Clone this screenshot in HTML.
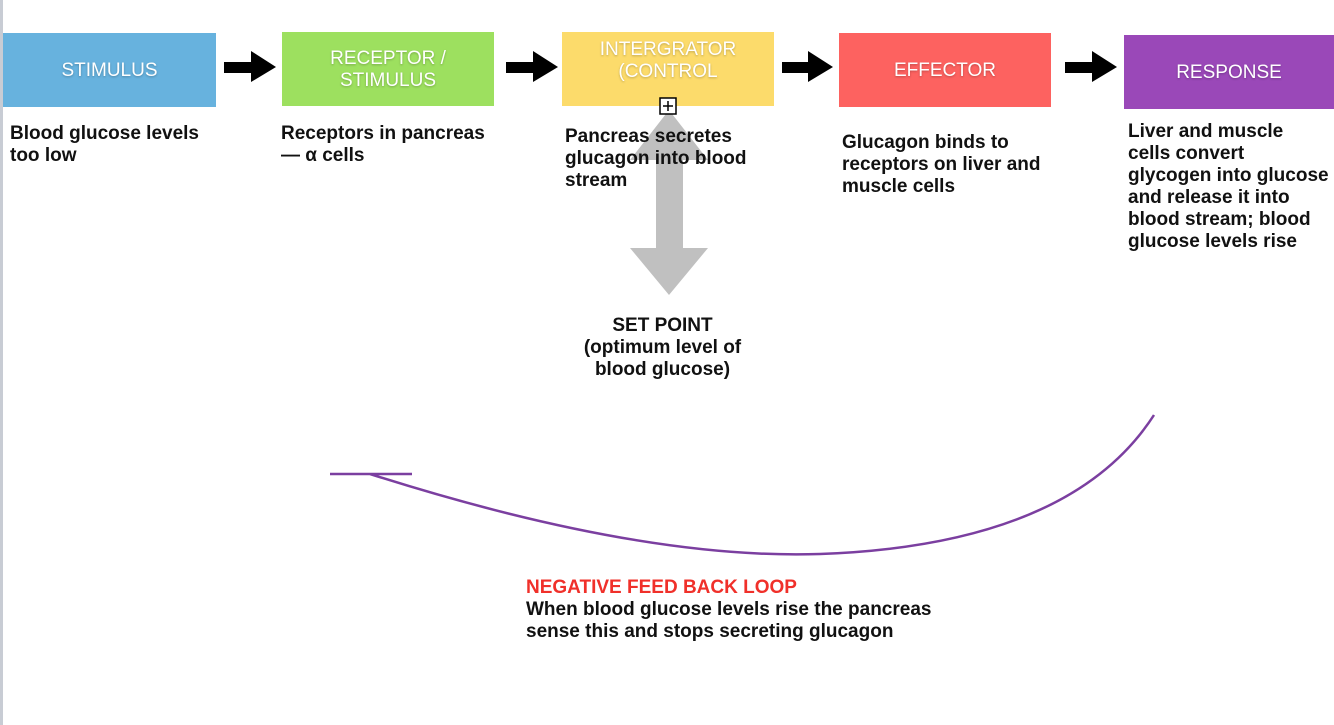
<!DOCTYPE html>
<html><head><style>
body{margin:0;width:1334px;height:725px;background:#fff;position:relative;overflow:hidden;font-family:"Liberation Sans",sans-serif;}
.strip{position:absolute;left:0;top:0;width:3px;height:725px;background:#c8ccd4;}
.box{position:absolute;color:#fff;font-size:19px;text-align:center;display:flex;align-items:center;justify-content:center;line-height:22px;text-shadow:0 1px 2px rgba(0,0,0,0.25);}
.t{position:absolute;font-weight:bold;font-size:19px;line-height:22px;color:#111;white-space:nowrap;}
.arr{position:absolute;}
</style></head><body>
<div class="strip"></div>
<div class="box" style="left:3px;top:33px;width:213px;height:74px;background:#67b2de;padding-top:2px;box-sizing:border-box;">STIMULUS</div>
<div class="box" style="left:282px;top:32px;width:212px;height:74px;background:#9de05f;padding-top:2px;box-sizing:border-box;">RECEPTOR /<br>STIMULUS</div>
<div class="box" style="left:562px;top:32px;width:212px;height:74px;background:#fcdb6b;align-items:flex-start;padding-top:7px;box-sizing:border-box;">INTERGRATOR<br>(CONTROL</div>
<div class="box" style="left:839px;top:33px;width:212px;height:74px;background:#fd6260;padding-top:2px;box-sizing:border-box;">EFFECTOR</div>
<div class="box" style="left:1124px;top:35px;width:210px;height:74px;background:#9a48b8;padding-top:2px;box-sizing:border-box;">RESPONSE</div>

<svg class="arr" style="left:0;top:0" width="1334" height="725">
<g fill="#000">
<polygon points="224,62 251,62 251,51 276,67 251,82 251,73 224,73"/>
<polygon points="506,62 533,62 533,51 558,67 533,82 533,73 506,73"/>
<polygon points="782,62 808,62 808,51 833,67 808,82 808,73 782,73"/>
<polygon points="1065,62 1092,62 1092,51 1117,67 1092,82 1092,73 1065,73"/>
</g>
<polygon fill="#c0c0c0" points="669,110 708,160 683,160 683,248 708,248 669,295 630,248 656,248 656,160 630,160"/>
<rect x="660" y="98" width="16" height="16" fill="#fff" stroke="#000" stroke-width="1.5"/>
<path d="M668 101v10M663 106h10" stroke="#000" stroke-width="1.5"/>
<path d="M330 474H412M370 474Q640 560 820 554Q1070 545 1154 415" fill="none" stroke="#7b3fa0" stroke-width="2.5"/>
</svg>

<div class="t" style="left:10px;top:123px;">Blood glucose levels<br>too low</div>
<div class="t" style="left:281px;top:123px;">Receptors in pancreas<br>— α cells</div>
<div class="t" style="left:565px;top:126px;">Pancreas secretes<br>glucagon into blood<br>stream</div>
<div class="t" style="left:842px;top:132px;">Glucagon binds to<br>receptors on liver and<br>muscle cells</div>
<div class="t" style="left:1128px;top:121px;">Liver and muscle<br>cells convert<br>glycogen into glucose<br>and release it into<br>blood stream; blood<br>glucose levels rise</div>
<div class="t" style="left:560px;top:315px;width:205px;text-align:center;">SET POINT<br>(optimum level of<br>blood glucose)</div>
<div class="t" style="left:526px;top:577px;color:#f0302a;">NEGATIVE FEED BACK LOOP</div>
<div class="t" style="left:526px;top:599px;">When blood glucose levels rise the pancreas<br>sense this and stops secreting glucagon</div>
</body></html>
